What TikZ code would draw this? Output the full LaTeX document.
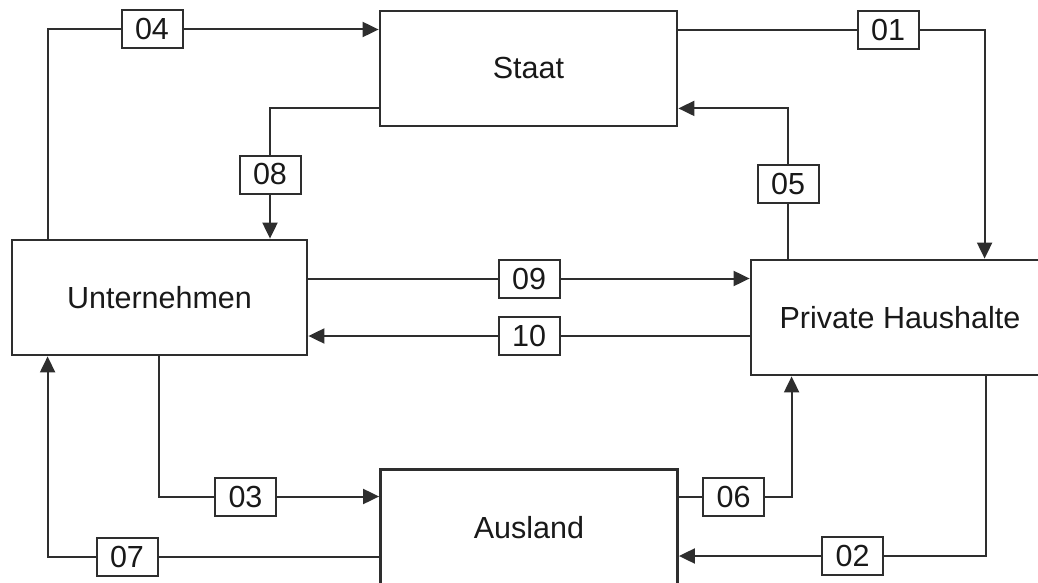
\documentclass[tikz,border=0pt]{standalone}
\usepackage{fontspec}
\setmainfont{Liberation Sans}
\usetikzlibrary{arrows.meta,calc}
\definecolor{ink}{HTML}{2E2E2E}
\tikzset{
  mainbox/.style={draw=ink,line width=2.8pt,fill=white,inner sep=0pt,
    font=\fontsize{30.5}{36}\selectfont,text=black!90},
  numbox/.style={draw=ink,line width=2pt,fill=white,inner sep=0pt,
    minimum width=61pt,minimum height=38pt,
    font=\fontsize{30.5}{36}\selectfont,text=black!90},
  ln/.style={draw=ink,line width=2pt},
  ar/.style={ln,-{Triangle[length=16pt,width=15pt]}}
}
\begin{document}
\begin{tikzpicture}[x=1pt,y=-1pt]
\clip (0,0) rectangle (1038,583);
\fill[white] (0,0) rectangle (1038,583);
% main boxes
\node[mainbox,minimum width=297pt,minimum height=115pt] (S) at (528.5,68.5) {Staat};
\node[mainbox,minimum width=295pt,minimum height=115pt] (U) at (159.5,297.5) {Unternehmen};
\node[mainbox,minimum width=300pt,minimum height=115pt] (PH) at (901,317.5) {};
\node[font=\fontsize{30.5}{36}\selectfont,text=black!90] (PHt) at (900,317.5) {Private Haushalte};
\node[mainbox,minimum width=297pt,minimum height=116pt] (A) at (529,527.5) {Ausland};
% label boxes
\node[numbox] (L04) at (152,29.5) {04};
\node[numbox] (L01) at (888,30.5) {01};
\node[numbox] (L08) at (270,174.5) {08};
\node[numbox] (L05) at (788,183.5) {05};
\node[numbox] (L09) at (529,278.5) {09};
\node[numbox] (L10) at (529,336) {10};
\node[numbox] (L03) at (245.5,496.5) {03};
\node[numbox] (L07) at (127,557) {07};
\node[numbox] (L06) at (733.5,497) {06};
\node[numbox] (L02) at (852.5,556) {02};
% connectors
\draw[ln] ($(U.north west)+(37,0)$) |- (L04.west);
\draw[ar] (L04.east) -- (S.west |- L04.east);
\draw[ln] (S.east |- L01.west) -- (L01.west);
\draw[ar] (L01.east) -| ($(PH.north west)+(235,0)$);
\draw[ln] ($(S.south west)+(0,-19)$) -| (L08.north);
\draw[ar] (L08.south) -- (L08.south |- U.north);
\draw[ln] (L05.south |- PH.north) -- (L05.south);
\draw[ar] (L05.north) |- ($(S.south east)+(0,-19)$);
\draw[ln] (U.east |- L09.west) -- (L09.west);
\draw[ar] (L09.east) -- (PH.west |- L09.east);
\draw[ln] (PH.west |- L10.east) -- (L10.east);
\draw[ar] (L10.west) -- (U.east |- L10.west);
\draw[ln] ($(U.south west)+(148,0)$) |- (L03.west);
\draw[ar] (L03.east) -- (A.west |- L03.east);
\draw[ln] (A.west |- L07.east) -- (L07.east);
\draw[ar] (L07.west) -| ($(U.south west)+(37,0)$);
\draw[ln] (A.east |- L06.west) -- (L06.west);
\draw[ar] (L06.east) -| ($(PH.south west)+(42,0)$);
\draw[ln] ($(PH.south west)+(236,0)$) |- (L02.east);
\draw[ar] (L02.west) -- (A.east |- L02.west);
\end{tikzpicture}
\end{document}
